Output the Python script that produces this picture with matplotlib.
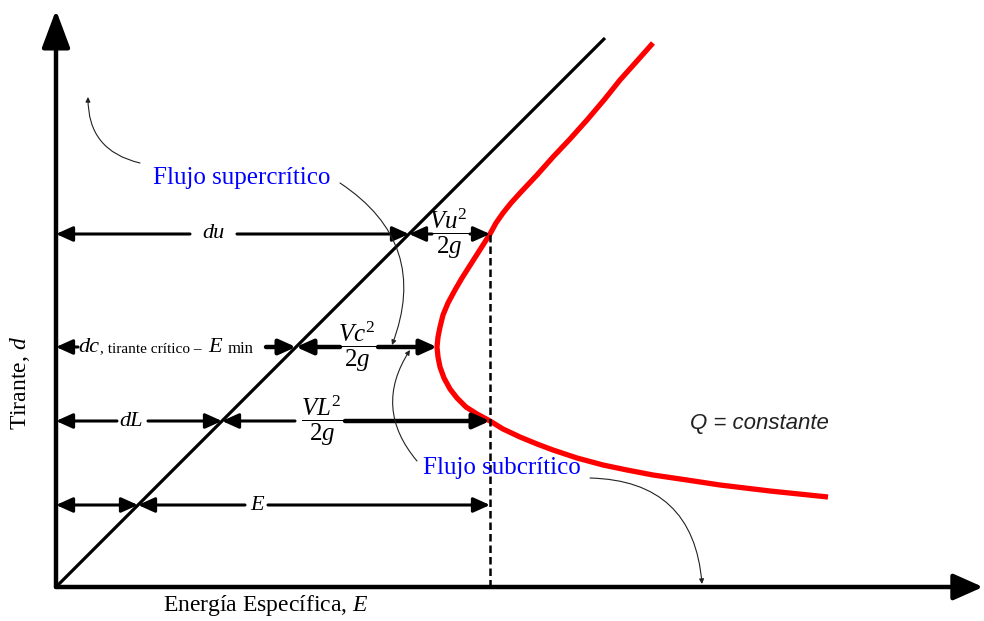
import matplotlib.pyplot as plt
from matplotlib.patches import ArrowStyle

plt.rcParams['font.family'] = ['Liberation Serif', 'DejaVu Serif']
plt.rcParams['mathtext.fontset'] = 'custom'
plt.rcParams['mathtext.rm'] = 'Liberation Serif'
plt.rcParams['mathtext.it'] = 'Liberation Serif:italic'

# curva de energia especifica (E vs d) para Q constante
energia = [597, 581, 564, 548, 531, 514, 497, 481, 465, 455, 447, 440, 434,
           427, 420, 413, 406, 399, 392, 387, 384, 382, 381, 382, 384, 388,
           394, 401, 410, 421, 434, 447, 464, 481, 497, 521, 547, 571, 597,
           631, 664, 714, 772]
tirante = [544, 526, 507, 487, 467, 448, 430, 412, 395, 384, 374, 364, 353,
           342, 331, 320, 309, 297, 284, 272, 260, 250, 240, 230, 220, 209,
           198, 189, 180, 173, 166, 158, 150, 143, 137, 129, 122, 117, 112,
           107, 102, 96, 90]

d_u = 353      # tirante supercritico
d_c = 240      # tirante critico
d_L = 166      # tirante subcritico
d_e = 82       # altura de la cota E
E_sel = 434    # energia de las dos secciones alternas
E_min = 381    # energia minima
recta_fin = 549
eje_x_fin = 927
eje_y_fin = 577

fig = plt.figure(figsize=(9.84, 6.21), dpi=100)
ax = fig.add_axes([0, 0, 1, 1])
ax.set_xlim(-56, 928)
ax.set_ylim(-34, 587)
ax.axis("off")

cabeza = ArrowStyle("-|>", head_length=1.0, head_width=0.45)
doble = ArrowStyle("<|-|>", head_length=1.0, head_width=0.45)


def cota(x0, x1, y, lw=2.2, style=cabeza):
    ax.annotate("", xy=(x1, y), xytext=(x0, y),
                arrowprops=dict(arrowstyle=style, color="black", lw=lw,
                                mutation_scale=10, shrinkA=0, shrinkB=0))


def flecha_curva(x0, y0, x1, y1, rad):
    ax.annotate("", xy=(x1, y1), xytext=(x0, y0),
                arrowprops=dict(arrowstyle="-|>", color="#222222", lw=0.8,
                                mutation_scale=7, shrinkA=0, shrinkB=0,
                                connectionstyle=f"arc3,rad={rad}"))


# ejes con punta de flecha
ax.annotate("", xy=(0, eje_y_fin), xytext=(0, 0),
            arrowprops=dict(arrowstyle=ArrowStyle("-|>", head_length=2.3, head_width=0.86),
                            color="black", lw=3.2, mutation_scale=10, shrinkA=0, shrinkB=0))
ax.annotate("", xy=(eje_x_fin, 0), xytext=(0, 0),
            arrowprops=dict(arrowstyle=ArrowStyle("-|>", head_length=1.8, head_width=0.8),
                            color="black", lw=3.2, mutation_scale=10, shrinkA=0, shrinkB=0))

# recta E = d y curva E-d
ax.plot([0, recta_fin], [0, recta_fin], color="black", lw=2.3, solid_capstyle="butt")
ax.plot(energia, tirante, color="red", lw=3.8, solid_capstyle="butt",
        solid_joinstyle="round")
ax.plot([E_sel, E_sel], [0, d_u], color="black", lw=1.8, dashes=(3, 1.6))

# cotas a nivel de d_u
cota(134, 0, d_u)
cota(181, d_u, d_u)
cota(376, d_u, d_u)
cota(414, E_sel, d_u)
ax.text(157, d_u, "du", style="italic", fontsize=16, ha="center", va="center")
ax.text(393, d_u, r"$\dfrac{Vu^2}{2g}$", fontsize=18, ha="center", va="center")

# cotas a nivel de d_c
cota(22, 0, d_c)
cota(210, d_c, d_c, lw=3.2)
cota(284, d_c, d_c, lw=3.2)
cota(322, E_min, d_c, lw=3.2)
ax.text(22, d_c, "dc", style="italic", fontsize=16, ha="left", va="center")
ax.text(44, d_c - 2, ", tirante crítico –", fontsize=11, ha="left", va="center")
ax.text(152, d_c, "E", style="italic", fontsize=16, ha="left", va="center")
ax.text(172, d_c - 2, "min", fontsize=12, ha="left", va="center")
ax.text(301, d_c, r"$\dfrac{Vc^2}{2g}$", fontsize=18, ha="center", va="center")

# cotas a nivel de d_L
cota(61, 0, d_L)
cota(92, d_L, d_L)
cota(239, d_L, d_L)
cota(289, E_sel, d_L, lw=3.2)
ax.text(75, d_L, "dL", style="italic", fontsize=16, ha="center", va="center")
ax.text(266, d_L, r"$\dfrac{VL^2}{2g}$", fontsize=18, ha="center", va="center")

# cota de E
cota(0, d_e, d_e, style=doble)
cota(189, d_e, d_e)
cota(212, E_sel, d_e)
ax.text(201, d_e, "E", style="italic", fontsize=16, ha="center", va="center")

# rotulos de regimen
ax.text(97, 409, "Flujo supercrítico", color="blue", fontsize=18, ha="left", va="center")
ax.text(367, 119, "Flujo subcrítico", color="blue", fontsize=18, ha="left", va="center")
flecha_curva(84, 424, 32, 490, -0.4)
flecha_curva(284, 404, 336, 242, -0.4)
flecha_curva(361, 126, 354, 237, -0.37)
flecha_curva(534, 109, 646, 3, -0.45)

ax.text(634, 163, "Q = constante", family="Liberation Sans", style="italic",
        fontsize=16, color="#222222", ha="left", va="center")

ax.text(-36, 204, "Tirante, $d$", fontsize=17, rotation=90, ha="center", va="center")
ax.text(210, -19, "Energía Específica, $E$", fontsize=17, ha="center", va="center")

fig.savefig("out.png", dpi=100)
